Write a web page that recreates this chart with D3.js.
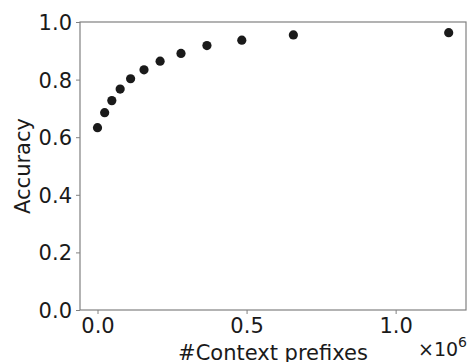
<!DOCTYPE html>
<html>
<head>
<meta charset="utf-8">
<script src="https://cdn.jsdelivr.net/npm/d3@7"></script>
<style>
  body { margin: 0; background: #fff; }
  svg text { font-family: "DejaVu Sans", sans-serif; fill: #1a1a1a; }
</style>
</head>
<body>
<div id="chart"></div>
<script>
// #context prefixes vs accuracy
const prefixes = [0, 24000, 48000, 76000, 111000, 156000, 210000, 280000, 367000, 484000, 657000, 1178000];
const accuracy = [0.633, 0.685, 0.727, 0.767, 0.803, 0.834, 0.864, 0.891, 0.918, 0.937, 0.955, 0.963];
const xTicks = [0, 0.5e6, 1.0e6];
const yTicks = [0, 0.2, 0.4, 0.6, 0.8, 1.0];

const width = 468, height = 362;
const margin = { top: 22, right: 2, bottom: 52, left: 80 };

const svg = d3.select("#chart")
    .append("svg")
    .attr("width", width)
    .attr("height", height);

const x = d3.scaleLinear()
    .domain([-0.0587e6, 1.236e6])
    .range([margin.left, width - margin.right]);

const y = d3.scaleLinear()
    .domain([0, 1])
    .range([height - margin.bottom, margin.top]);

const spine = "#808080";

// frame
svg.append("rect")
    .attr("x", margin.left)
    .attr("y", margin.top)
    .attr("width", width - margin.right - margin.left)
    .attr("height", height - margin.bottom - margin.top)
    .attr("fill", "none")
    .attr("stroke", spine)
    .attr("stroke-width", 1.2);

const xAxis = svg.append("g")
    .attr("transform", `translate(0,${height - margin.bottom})`)
    .call(d3.axisBottom(x).tickValues(xTicks).tickSize(4).tickPadding(4)
        .tickFormat(d => (d / 1e6).toFixed(1)));

const yAxis = svg.append("g")
    .attr("transform", `translate(${margin.left},0)`)
    .call(d3.axisLeft(y).tickValues(yTicks).tickSize(4).tickPadding(4)
        .tickFormat(d3.format(".1f")));

[xAxis, yAxis].forEach(g => {
    g.select(".domain").remove();
    g.selectAll(".tick line").attr("stroke", spine);
    g.selectAll(".tick text")
        .style("font-size", "21px")
        .style("font-family", "DejaVu Sans, sans-serif")
        .attr("fill", "#1a1a1a");
});
yAxis.selectAll(".tick text").attr("dy", "0.36em");

svg.append("g")
    .selectAll("circle")
    .data(prefixes.map((p, i) => ({ p: p, a: accuracy[i] })))
    .enter()
    .append("circle")
    .attr("cx", d => x(d.p))
    .attr("cy", d => y(d.a))
    .attr("r", 4.6)
    .attr("fill", "#1a1a1a");

svg.append("text")
    .attr("transform", `translate(30,${(margin.top + height - margin.bottom) / 2}) rotate(-90)`)
    .attr("text-anchor", "middle")
    .style("font-size", "21px")
    .text("Accuracy");

svg.append("text")
    .attr("x", (margin.left + width - margin.right) / 2)
    .attr("y", 360)
    .attr("text-anchor", "middle")
    .style("font-size", "21px")
    .text("#Context prefixes");

const offset = svg.append("text")
    .attr("x", 467)
    .attr("y", 356)
    .attr("text-anchor", "end")
    .style("font-size", "19px");
offset.append("tspan").text("×10");
offset.append("tspan")
    .attr("dy", -9)
    .style("font-size", "14px")
    .text("6");
</script>
</body>
</html>
